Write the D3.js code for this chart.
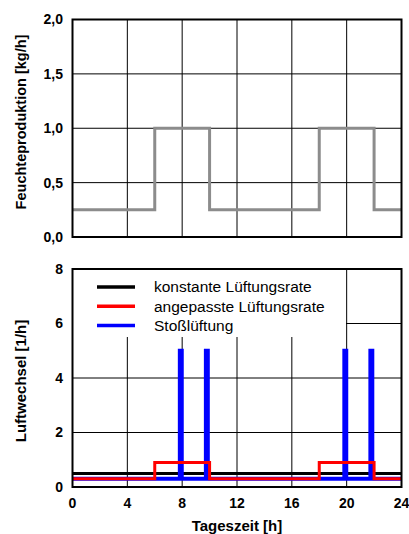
<!DOCTYPE html>
<html><head><meta charset="utf-8">
<script src="https://cdn.jsdelivr.net/npm/d3@7"></script>
<style>body{margin:0;background:#fff}svg{display:block}</style>
</head><body>
<script>
// ---- data ----
const xTicks = [0, 4, 8, 12, 16, 20, 24];
const topYTicks = [0, 0.5, 1.0, 1.5, 2.0];
const botYTicks = [0, 2, 4, 6, 8];
// Feuchteproduktion [kg/h] (step points: hour, value)
const humidity = [[0,0.25],[6,0.25],[6,1.0],[10,1.0],[10,0.25],[18,0.25],[18,1.0],[22,1.0],[22,0.25],[24,0.25]];
// konstante Lüftungsrate
const constRate = [[0,0.5],[24,0.5]];
// angepasste Lüftungsrate
const adaptRate = [[0,0.3],[6,0.3],[6,0.9],[10,0.9],[10,0.3],[18,0.3],[18,0.9],[22,0.9],[22,0.3],[24,0.3]];
// Stoßlüftung
const pulseRate = [[0,0.3],[7.83,0.3],[7.83,5],[7.97,5],[7.97,0.3],[9.73,0.3],[9.73,5],[9.87,5],[9.87,0.3],
  [19.83,0.3],[19.83,5],[19.97,5],[19.97,0.3],[21.73,0.3],[21.73,5],[21.87,5],[21.87,0.3],[24,0.3]];
const legendNames = ["konstante Lüftungsrate", "angepasste Lüftungsrate", "Stoßlüftung"];
const legendColors = ["#000000", "#ff0000", "#0000ff"];

// ---- layout ----
const W = 409, H = 534;
const svg = d3.select("body").append("svg").attr("width", W).attr("height", H);
const font = "Liberation Sans, Arial, sans-serif";

const x = d3.scaleLinear().domain([0, 24]).range([72.5, 401.5]);
const yTop = d3.scaleLinear().domain([0, 2]).range([237, 19.5]);
const yBot = d3.scaleLinear().domain([0, 8]).range([487, 269]);

const line = (ys) => d3.line().x(d => x(d[0])).y(d => ys(d[1]));

function panel(ys, yTicks, fmt, label, labelY, labelSize) {
  const g = svg.append("g");
  // grid
  g.selectAll(".vg").data(xTicks.slice(1, -1)).join("line")
    .attr("x1", d => x(d)).attr("x2", d => x(d))
    .attr("y1", ys.range()[0]).attr("y2", ys.range()[1])
    .attr("stroke", "#000").attr("stroke-width", 1);
  g.selectAll(".hg").data(yTicks.slice(1, -1)).join("line")
    .attr("x1", x(0)).attr("x2", x(24))
    .attr("y1", d => ys(d)).attr("y2", d => ys(d))
    .attr("stroke", "#000").attr("stroke-width", 1);
  // y tick labels
  g.selectAll(".yt").data(yTicks).join("text")
    .attr("x", 63).attr("y", d => ys(d)).attr("dy", "0.35em")
    .attr("text-anchor", "end").attr("font-family", font)
    .attr("font-weight", "bold").attr("font-size", 14).attr("fill", "#000")
    .text(fmt);
  // y label
  g.append("text")
    .attr("transform", `translate(21,${labelY}) rotate(-90)`)
    .attr("text-anchor", "middle").attr("dy", "0.35em")
    .attr("font-family", font).attr("font-weight", "bold").attr("font-size", labelSize)
    .text(label);
  return g;
}

// top panel
const gTop = panel(yTop, topYTicks, d => d3.format(".1f")(d).replace(".", ","), "Feuchteproduktion [kg/h]", 122, 14.5);
gTop.append("path").datum(humidity).attr("d", line(yTop))
  .attr("fill", "none").attr("stroke", "#8c8c8c").attr("stroke-width", 3);
gTop.append("rect").attr("x", x(0)).attr("y", yTop(2)).attr("width", x(24) - x(0)).attr("height", yTop(0) - yTop(2))
  .attr("fill", "none").attr("stroke", "#000").attr("stroke-width", 2);

// bottom panel
const gBot = panel(yBot, botYTicks, d => d, "Luftwechsel [1/h]", 381, 15);
// legend background
gBot.append("rect").attr("x", x(0)).attr("y", yBot(8)).attr("width", 346 - x(0)).attr("height", 337 - yBot(8))
  .attr("fill", "#fff");
gBot.append("path").datum(constRate).attr("d", line(yBot))
  .attr("fill", "none").attr("stroke", "#000").attr("stroke-width", 3);
gBot.append("path").datum(pulseRate).attr("d", line(yBot))
  .attr("fill", "none").attr("stroke", "#0000ff").attr("stroke-width", 4);
gBot.append("path").datum(adaptRate).attr("d", line(yBot))
  .attr("fill", "none").attr("stroke", "#ff0000").attr("stroke-width", 3);
gBot.append("rect").attr("x", x(0)).attr("y", yBot(8)).attr("width", x(24) - x(0)).attr("height", yBot(0) - yBot(8))
  .attr("fill", "none").attr("stroke", "#000").attr("stroke-width", 2);

// legend
const lg = gBot.append("g");
legendNames.forEach((n, i) => {
  const ly = 287 + i * 19.3;
  lg.append("line").attr("x1", 97).attr("x2", 135).attr("y1", ly).attr("y2", ly)
    .attr("stroke", legendColors[i]).attr("stroke-width", 3.5);
  lg.append("text").attr("x", 154).attr("y", ly).attr("dy", "0.35em")
    .attr("font-family", font).attr("font-size", 15.5).attr("fill", "#000").text(n);
});

// x ticks
gBot.selectAll(".xt").data(xTicks).join("text")
  .attr("x", d => x(d)).attr("y", 503).attr("dy", "0.35em")
  .attr("text-anchor", "middle").attr("font-family", font)
  .attr("font-weight", "bold").attr("font-size", 14).text(d => d);
gBot.append("text").attr("x", 237).attr("y", 526).attr("dy", "0.35em")
  .attr("text-anchor", "middle").attr("font-family", font)
  .attr("font-weight", "bold").attr("font-size", 15).text("Tageszeit [h]");
</script>
</body></html>
